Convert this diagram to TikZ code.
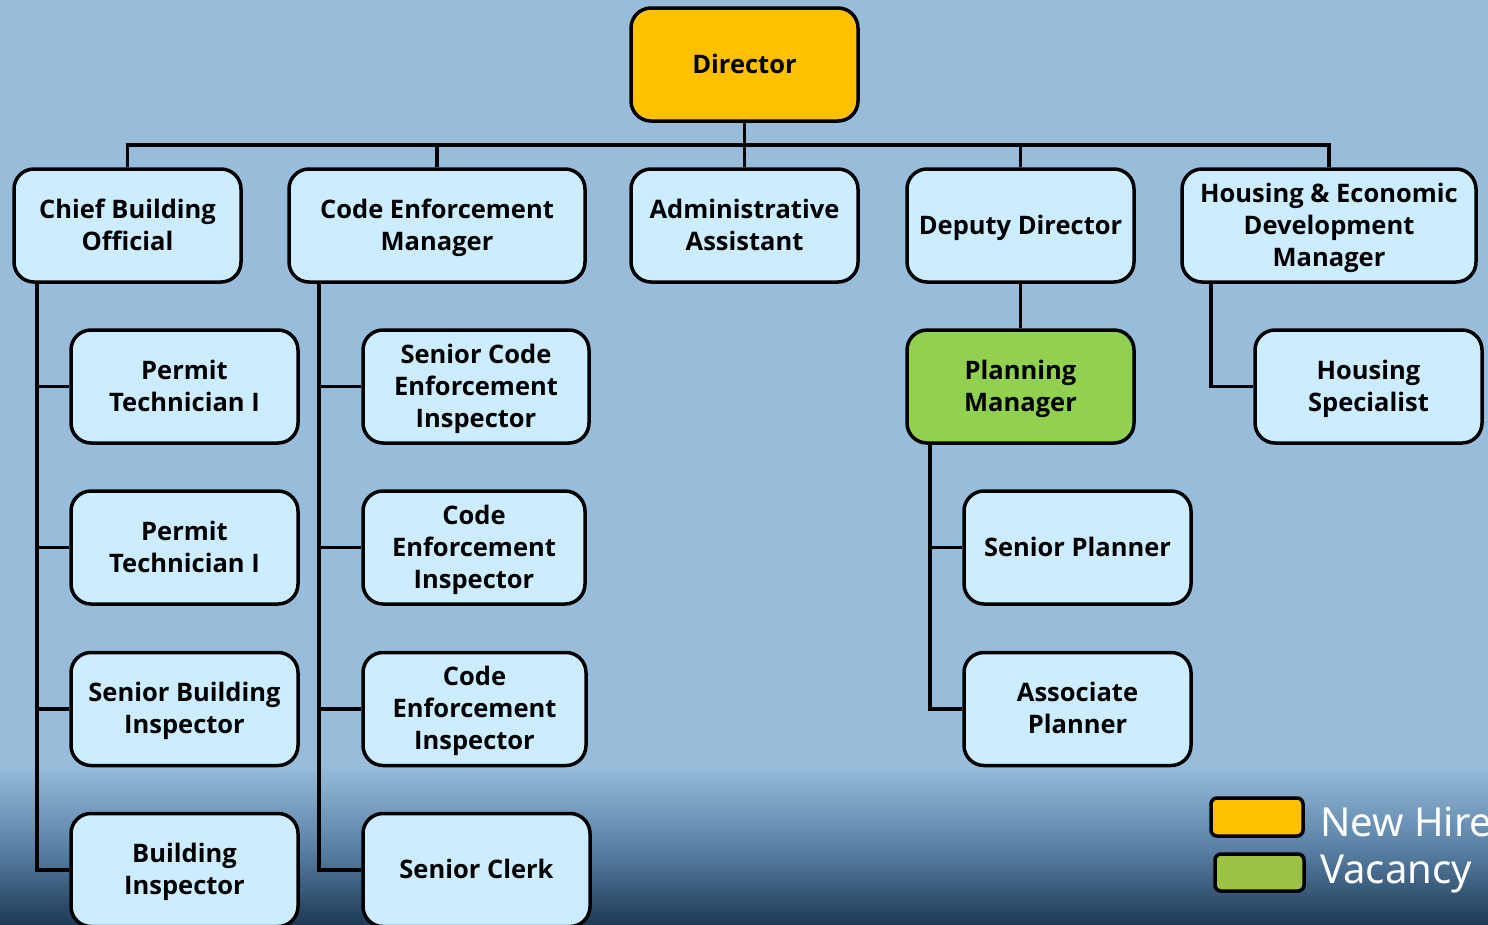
\documentclass[tikz,border=0pt]{standalone}
\usepackage{fontspec}
\setmainfont{Open Sans}
\newfontfamily\legfont{Noto Sans}
\definecolor{bgblue}{HTML}{98BDDB}
\definecolor{boxblue}{HTML}{CCECFF}
\definecolor{orangebox}{HTML}{FFC000}
\definecolor{greenbox}{HTML}{92D050}
\definecolor{leggreen}{HTML}{9BC243}
\definecolor{gradtop}{HTML}{93B9D8}
\definecolor{gradmid}{HTML}{5A82A6}
\definecolor{gradbot}{HTML}{1E3A56}
\tikzset{
  orgbox/.style={draw=black, line width=3.5pt, rounded corners=20pt, fill=boxblue,
    minimum height=113pt, align=center, inner sep=0pt, text depth=0pt,
    font=\bfseries\fontsize{25.5}{32}\selectfont},
  one/.style={text height=17pt},
  two/.style={text height=49pt},
  three/.style={text height=81pt},
  conn/.style={draw=black, line width=3.8pt},
  legbox/.style={draw=black, line width=3.5pt, rounded corners=6pt, inner sep=0pt},
  legtext/.style={text=white, anchor=base west, inner sep=0pt, font=\legfont\fontsize{40}{48}\selectfont}
}
\begin{document}
\begin{tikzpicture}[x=1pt,y=-1pt]
\useasboundingbox (0,0) rectangle (1488,924);
\fill[bgblue] (0,0) rectangle (1488,924);
\shade[top color=gradtop, bottom color=gradbot, middle color=gradmid] (0,770) rectangle (1488,924);

% top level
\node[orgbox, one, fill=orangebox, minimum width=227pt] (dir) at (744.5,64.5) {Director};
\node[orgbox, two, minimum width=227pt] (cbo) at (127.5,225.5) {Chief Building\\Official};
\node[orgbox, two, minimum width=296pt] (cem) at (437,225.5) {Code Enforcement\\Manager};
\node[orgbox, two, minimum width=227pt] (aa) at (744.5,225.5) {Administrative\\Assistant};
\node[orgbox, one, minimum width=227pt] (dd) at (1020.5,225.5) {Deputy Director};
\node[orgbox, three, minimum width=294pt] (hed) at (1329,225.5) {Housing \& Economic\\Development\\Manager};

% building column
\node[orgbox, two, minimum width=227pt] (pt1) at (184.5,386.5) {Permit\\Technician I};
\node[orgbox, two, minimum width=227pt] (pt2) at (184.5,547.5) {Permit\\Technician I};
\node[orgbox, two, minimum width=227pt] (sbi) at (184.5,709) {Senior Building\\Inspector};
\node[orgbox, two, minimum width=227pt] (bi) at (184.5,870) {Building\\Inspector};

% code enforcement column
\node[orgbox, three, minimum width=226pt] (scei) at (476,386.5) {Senior Code\\Enforcement\\Inspector};
\node[orgbox, three, minimum width=222pt] (cei1) at (474,547.5) {Code\\Enforcement\\Inspector};
\node[orgbox, three, minimum width=223pt] (cei2) at (474.5,709) {Code\\Enforcement\\Inspector};
\node[orgbox, one, minimum width=227pt] (sc) at (476.5,870) {Senior Clerk};

% planning
\node[orgbox, two, fill=greenbox, minimum width=227pt] (pm) at (1020.5,386.5) {Planning\\Manager};
\node[orgbox, one, minimum width=227pt] (sp) at (1077.5,547.5) {Senior Planner};
\node[orgbox, two, minimum width=227pt] (ap) at (1077.5,709) {Associate\\Planner};

% housing
\node[orgbox, two, minimum width=227pt] (hs) at (1368.5,386.5) {Housing\\Specialist};

% connectors
\draw[conn] (cbo.north) -- ++(0,-22) -| (hed.north);
\draw[conn] (dir.south) -- (aa.north);
\draw[conn] (cem.north) -- ++(0,-22);
\draw[conn] (dd.north) -- ++(0,-22);

\draw[conn] ([xshift=-90.5pt]cbo.south) |- (bi.west);
\draw[conn] (pt1.west) -- ++(-34,0);
\draw[conn] (pt2.west) -- ++(-34,0);
\draw[conn] (sbi.west) -- ++(-34,0);

\draw[conn] ([xshift=-118pt]cem.south) |- (sc.west);
\draw[conn] (scei.west) -- ++(-44,0);
\draw[conn] (cei1.west) -- ++(-44,0);
\draw[conn] (cei2.west) -- ++(-44,0);

\draw[conn] (dd.south) -- (pm.north);
\draw[conn] ([xshift=-90.5pt]pm.south) |- (ap.west);
\draw[conn] (sp.west) -- ++(-34,0);

\draw[conn] ([xshift=-118pt]hed.south) |- (hs.west);

% legend
\node[legbox, fill=orangebox, minimum width=92pt, minimum height=38pt] (lnew) at (1257,817) {};
\node[legbox, fill=leggreen, minimum width=89pt, minimum height=37pt] (lvac) at (1259.5,872.5) {};
\node[legtext] (tnew) at (1320,836) {New Hire};
\node[legtext] (tvac) at (1320,883) {Vacancy};
\end{tikzpicture}
\end{document}
